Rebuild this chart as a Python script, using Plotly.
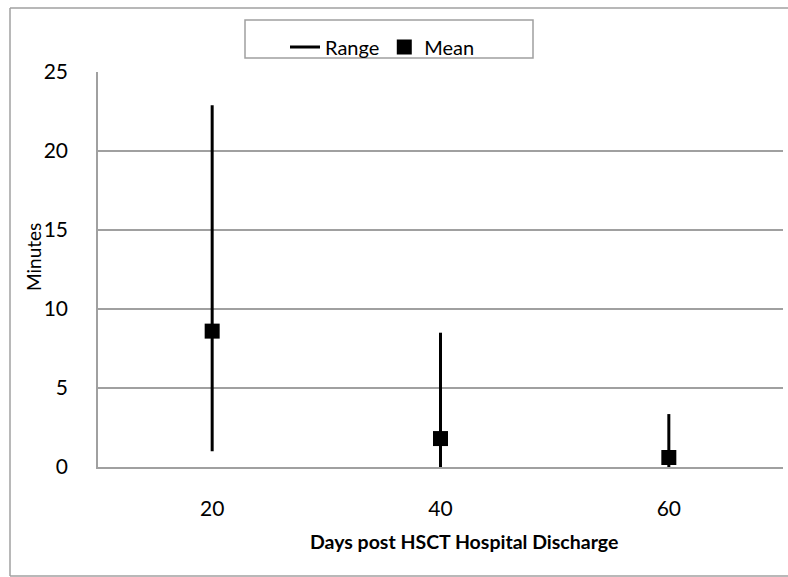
import plotly.graph_objects as go

days = ["20", "40", "60"]
range_low = [1.0, 0.0, 0.0]
range_high = [22.9, 8.5, 3.35]
mean_vals = [8.6, 1.8, 0.6]
y_ticks = [0, 5, 10, 15, 20, 25]

W, H = 788, 577
L, R, T, B = 98, 5, 72, 110
PW, PH = W - L - R, H - T - B


def px(xp):
    return (xp - L) / PW


def py(yp):
    return (H - B - yp) / PH


seg_x, seg_y = [], []
for d, lo, hi in zip(days, range_low, range_high):
    seg_x += [d, d, None]
    seg_y += [lo, hi, None]

fig = go.Figure()
fig.add_trace(go.Scatter(x=seg_x, y=seg_y, mode="lines", name="Range",
                         line=dict(color="black", width=3), connectgaps=False))
fig.add_trace(go.Scatter(x=days, y=mean_vals, mode="markers", name="Mean",
                         marker=dict(symbol="square", size=15, color="black")))

frame = dict(color="#a0a0a0", width=1.5)
font = "Lato, 'Open Sans', sans-serif"
fig.update_layout(
    width=W, height=H,
    margin=dict(l=L, r=R, t=T, b=B),
    paper_bgcolor="white", plot_bgcolor="white",
    font=dict(family=font, color="black", size=21),
    showlegend=True,
    legend=dict(orientation="h", x=px(285), y=py(47), xanchor="left", yanchor="middle",
                bgcolor="rgba(0,0,0,0)", font=dict(size=20), itemwidth=30,
                tracegroupgap=0),
    xaxis=dict(type="category", categoryorder="array", categoryarray=days,
               range=[-0.5, 2.5], showgrid=False, showline=True, linecolor="#a0a0a0",
               linewidth=1.5, zeroline=False,
               ticks="", tickfont=dict(size=21), ticklabelstandoff=22),
    yaxis=dict(range=[0, 25], tickvals=y_ticks, showgrid=True, gridcolor="#a0a0a0",
               gridwidth=1.5, showline=True, linecolor="#a0a0a0", linewidth=1.5,
               zeroline=False, ticks="", tickfont=dict(size=21), ticklabelstandoff=24),
    shapes=[
        dict(type="line", xref="paper", yref="paper", x0=px(10), x1=px(10),
             y0=py(576), y1=py(8), line=frame),
        dict(type="line", xref="paper", yref="paper", x0=px(10), x1=px(790),
             y0=py(8), y1=py(8), line=frame),
        dict(type="line", xref="paper", yref="paper", x0=px(10), x1=px(790),
             y0=py(576), y1=py(576), line=frame),
        dict(type="rect", xref="paper", yref="paper", x0=px(245), x1=px(533),
             y0=py(58), y1=py(20), line=frame, fillcolor="rgba(0,0,0,0)"),
    ],
    annotations=[
        dict(text="Minutes", xref="paper", yref="paper", x=px(33), y=py(257),
             textangle=-90, showarrow=False, font=dict(size=19),
             xanchor="center", yanchor="middle"),
        dict(text="<b>Days post HSCT Hospital Discharge</b>", xref="paper", yref="paper",
             x=px(464), y=py(541), showarrow=False, font=dict(size=19.5),
             xanchor="center", yanchor="middle"),
    ],
)

fig.write_html("out.html", config={"displayModeBar": False},
               post_script="document.body.style.margin='0';document.body.style.overflow='hidden';")
